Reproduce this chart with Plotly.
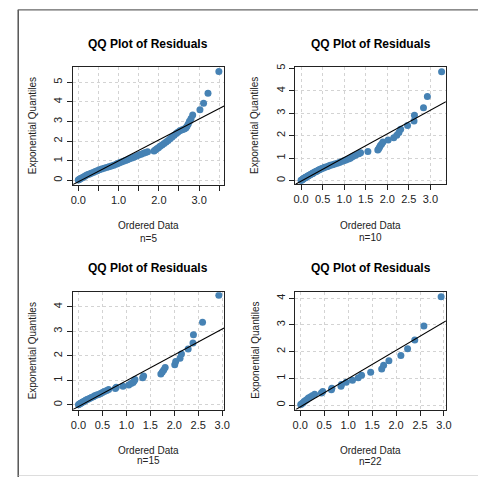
import plotly.graph_objects as go

W, H = 484, 477

# ---------------- data ----------------
p1_x = [0.00, 0.02, 0.04, 0.07, 0.10, 0.13, 0.16, 0.20, 0.24, 0.28, 0.32, 0.37, 0.42, 0.47, 0.52,
        0.58, 0.64, 0.70, 0.76, 0.82, 0.88, 0.94, 0.98, 1.02, 1.07, 1.12, 1.17, 1.22, 1.27, 1.33,
        1.39, 1.45, 1.50, 1.56, 1.62, 1.67, 1.72, 1.88, 1.91, 1.95, 1.99, 2.03, 2.08, 2.13, 2.18,
        2.23, 2.28, 2.33, 2.38, 2.43, 2.47, 2.52, 2.58, 2.63, 2.67, 2.70, 2.73, 2.76, 2.80, 2.84,
        3.02, 3.11, 3.22, 3.49]
p1_y = [0.02, 0.05, 0.08, 0.11, 0.14, 0.18, 0.22, 0.26, 0.30, 0.33, 0.37, 0.41, 0.46, 0.50, 0.54,
        0.58, 0.62, 0.66, 0.70, 0.74, 0.78, 0.82, 0.86, 0.90, 0.94, 0.98, 1.02, 1.06, 1.10, 1.14,
        1.19, 1.24, 1.29, 1.34, 1.38, 1.42, 1.46, 1.50, 1.55, 1.61, 1.67, 1.74, 1.81, 1.88, 1.96,
        2.04, 2.12, 2.21, 2.30, 2.39, 2.46, 2.53, 2.58, 2.62, 2.67, 2.76, 2.88, 3.02, 3.15, 3.33,
        3.60, 3.93, 4.44, 5.55]

p2_x = [0.00, 0.01, 0.02, 0.04, 0.05, 0.06, 0.08, 0.09, 0.10, 0.12, 0.14, 0.16, 0.17, 0.19, 0.21,
        0.23, 0.25, 0.27, 0.28, 0.30, 0.33, 0.35, 0.37, 0.40, 0.42, 0.45, 0.48, 0.52, 0.55, 0.60,
        0.64, 0.68, 0.73, 0.78, 0.84, 0.89, 0.94, 0.99, 1.04, 1.10, 1.14, 1.18, 1.22, 1.27, 1.34,
        1.38, 1.55, 1.78, 1.80, 1.82, 1.84, 1.87, 1.90, 2.02, 2.15, 2.22, 2.27, 2.31, 2.47, 2.62,
        2.63, 2.84, 2.93, 3.26]
p2_y = [0.01, 0.02, 0.04, 0.06, 0.07, 0.09, 0.11, 0.13, 0.14, 0.16, 0.18, 0.20, 0.22, 0.24, 0.26,
        0.28, 0.30, 0.32, 0.34, 0.36, 0.39, 0.41, 0.43, 0.46, 0.48, 0.51, 0.54, 0.56, 0.59, 0.62,
        0.65, 0.68, 0.71, 0.74, 0.77, 0.81, 0.85, 0.88, 0.92, 0.96, 1.00, 1.05, 1.09, 1.14, 1.19,
        1.24, 1.30, 1.36, 1.42, 1.49, 1.56, 1.63, 1.72, 1.81, 1.91, 2.02, 2.14, 2.29, 2.45, 2.66,
        2.91, 3.24, 3.75, 4.85]

p3_x = [0.00, 0.02, 0.04, 0.06, 0.08, 0.10, 0.13, 0.15, 0.18, 0.21, 0.24, 0.27, 0.31, 0.34, 0.38,
        0.42, 0.46, 0.50, 0.54, 0.59, 0.63, 0.77, 0.79, 0.93, 1.05, 1.10, 1.14, 1.16, 1.18, 1.34,
        1.36, 1.72, 1.75, 1.78, 1.81, 2.01, 2.03, 2.12, 2.15, 2.29, 2.39, 2.40, 2.59, 2.93]
p3_y = [0.01, 0.04, 0.06, 0.08, 0.11, 0.13, 0.16, 0.19, 0.22, 0.24, 0.27, 0.30, 0.33, 0.37, 0.40,
        0.43, 0.47, 0.51, 0.55, 0.59, 0.63, 0.67, 0.72, 0.76, 0.81, 0.87, 0.92, 0.98, 1.04, 1.11,
        1.18, 1.26, 1.34, 1.43, 1.53, 1.64, 1.77, 1.91, 2.08, 2.28, 2.53, 2.87, 3.38, 4.48]

p4_x = [0.01, 0.03, 0.06, 0.08, 0.11, 0.14, 0.17, 0.21, 0.25, 0.30, 0.44, 0.47, 0.65, 0.66, 0.85,
        0.86, 0.96, 1.09, 1.21, 1.28, 1.47, 1.70, 1.74, 1.85, 2.10, 2.24, 2.39, 2.58, 2.94]
p4_y = [0.02, 0.05, 0.09, 0.13, 0.17, 0.21, 0.26, 0.30, 0.35, 0.40, 0.45, 0.51, 0.57, 0.63, 0.70,
        0.77, 0.85, 0.93, 1.02, 1.12, 1.23, 1.35, 1.49, 1.66, 1.86, 2.11, 2.44, 2.96, 4.06]

panel_x = [p1_x, p2_x, p3_x, p4_x]
panel_y = [p1_y, p2_y, p3_y, p4_y]
n_labels = ["n=5", "n=10", "n=15", "n=22"]
line_slope = [1.066, 1.053, 1.054, 1.060]
line_intercept = [-0.067, -0.027, -0.066, -0.070]
title_text = "QQ Plot of Residuals"
x_title = "Ordered Data"
y_title = "Exponential Quantiles"
x_tickvals = [[0, 0.5, 1, 1.5, 2, 2.5, 3, 3.5], [0, 0.5, 1, 1.5, 2, 2.5, 3],
              [0, 0.5, 1, 1.5, 2, 2.5, 3], [0, 0.5, 1, 1.5, 2, 2.5, 3]]
x_ticktext = [["0.0", "", "1.0", "", "2.0", "", "3.0", ""],
              ["0.0", "0.5", "1.0", "1.5", "2.0", "2.5", "3.0"],
              ["0.0", "0.5", "1.0", "1.5", "2.0", "2.5", "3.0"],
              ["0.0", "0.5", "1.0", "1.5", "2.0", "2.5", "3.0"]]
y_tickvals = [[0, 1, 2, 3, 4, 5], [0, 1, 2, 3, 4, 5], [0, 1, 2, 3, 4], [0, 1, 2, 3, 4]]

# ---------------- layout geometry (pixels) ----------------
x_ranges = [[-0.139, 3.62], [-0.13, 3.36], [-0.12, 3.04], [-0.10, 3.04]]
y_ranges = [[-0.22, 5.79], [-0.16, 5.04], [-0.19, 4.60], [-0.17, 4.25]]
boxes = [(71, 225.3, 63.3, 182.3), (298, 451.3, 64, 181.7),
         (71, 225.3, 290.7, 409), (298, 451.3, 290, 409)]
title_y = [40, 40, 266, 266]
xlab_y = [223, 223.3, 450, 450]
nlab_y = [236, 235.7, 460.7, 461.7]
ylab_x = [30, 257, 30, 257]

FONT = "Liberation Sans, Arial, Helvetica, sans-serif"
POINT = "#4682B4"


def px(x):
    return x / W


def py(y):
    return 1 - y / H


fig = go.Figure()
annotations = []
layout = {}

for i in range(4):
    sfx = "" if i == 0 else str(i + 1)
    xa, ya = "x" + sfx, "y" + sfx
    l, r, t, b = boxes[i]
    xr, yr = x_ranges[i], y_ranges[i]

    fig.add_trace(go.Scatter(
        x=panel_x[i], y=panel_y[i], mode="markers", xaxis=xa, yaxis=ya,
        marker=dict(color=POINT, size=7, line=dict(width=0)), showlegend=False,
        hoverinfo="x+y"))
    lx = [xr[0], xr[1]]
    ly = [line_intercept[i] + line_slope[i] * v for v in lx]
    fig.add_trace(go.Scatter(
        x=lx, y=ly, mode="lines", xaxis=xa, yaxis=ya,
        line=dict(color="black", width=1.1), showlegend=False, hoverinfo="skip"))

    common = dict(showline=True, mirror=True, linecolor="#222", linewidth=1.2,
                  ticks="outside", ticklen=5, tickcolor="#222", tickwidth=1,
                  showgrid=True, gridcolor="#d3d3d3", griddash="dot", gridwidth=1,
                  zeroline=False, tickfont=dict(family=FONT, size=11, color="#222"),
                  fixedrange=True)
    layout["xaxis" + sfx] = dict(common, domain=[px(l), px(r)], range=xr, anchor=ya,
                                 tickmode="array", tickvals=x_tickvals[i],
                                 ticktext=x_ticktext[i])
    layout["yaxis" + sfx] = dict(common, domain=[py(b), py(t)], range=yr, anchor=xa,
                                 tickmode="array", tickvals=y_tickvals[i],
                                 ticktext=[str(v) for v in y_tickvals[i]], tickangle=-90)

    cx = (l + r) / 2
    annotations.append(dict(text="<b>" + title_text + "</b>", x=px(cx), y=py(title_y[i]),
                            xref="paper", yref="paper", showarrow=False,
                            xanchor="center", yanchor="middle",
                            font=dict(family=FONT, size=12, color="black")))
    annotations.append(dict(text=x_title, x=px(cx), y=py(xlab_y[i]),
                            xref="paper", yref="paper", showarrow=False,
                            xanchor="center", yanchor="middle",
                            font=dict(family=FONT, size=10, color="#222")))
    annotations.append(dict(text=n_labels[i], x=px(cx), y=py(nlab_y[i]),
                            xref="paper", yref="paper", showarrow=False,
                            xanchor="center", yanchor="middle",
                            font=dict(family=FONT, size=10, color="#222")))
    annotations.append(dict(text=y_title, x=px(ylab_x[i]), y=py((t + b) / 2),
                            xref="paper", yref="paper", showarrow=False, textangle=-90,
                            xanchor="center", yanchor="middle",
                            font=dict(family=FONT, size=10, color="#222")))

shapes = [
    dict(type="line", xref="paper", yref="paper", x0=px(15.5), x1=px(15.5),
         y0=py(6), y1=py(477), line=dict(color="#555", width=1.5)),
    dict(type="line", xref="paper", yref="paper", x0=px(15), x1=px(484),
         y0=py(6), y1=py(6), line=dict(color="#666", width=1.3)),
    dict(type="line", xref="paper", yref="paper", x0=px(16), x1=px(484),
         y0=py(475.5), y1=py(475.5), line=dict(color="#dddddd", width=1)),
]

fig.update_layout(
    width=W, height=H, autosize=False,
    margin=dict(l=0, r=0, t=0, b=0, pad=0),
    paper_bgcolor="white", plot_bgcolor="white",
    font=dict(family=FONT, color="#222"),
    annotations=annotations, shapes=shapes, showlegend=False,
    **layout)

fig.write_html("out.html", config={"displayModeBar": False})
